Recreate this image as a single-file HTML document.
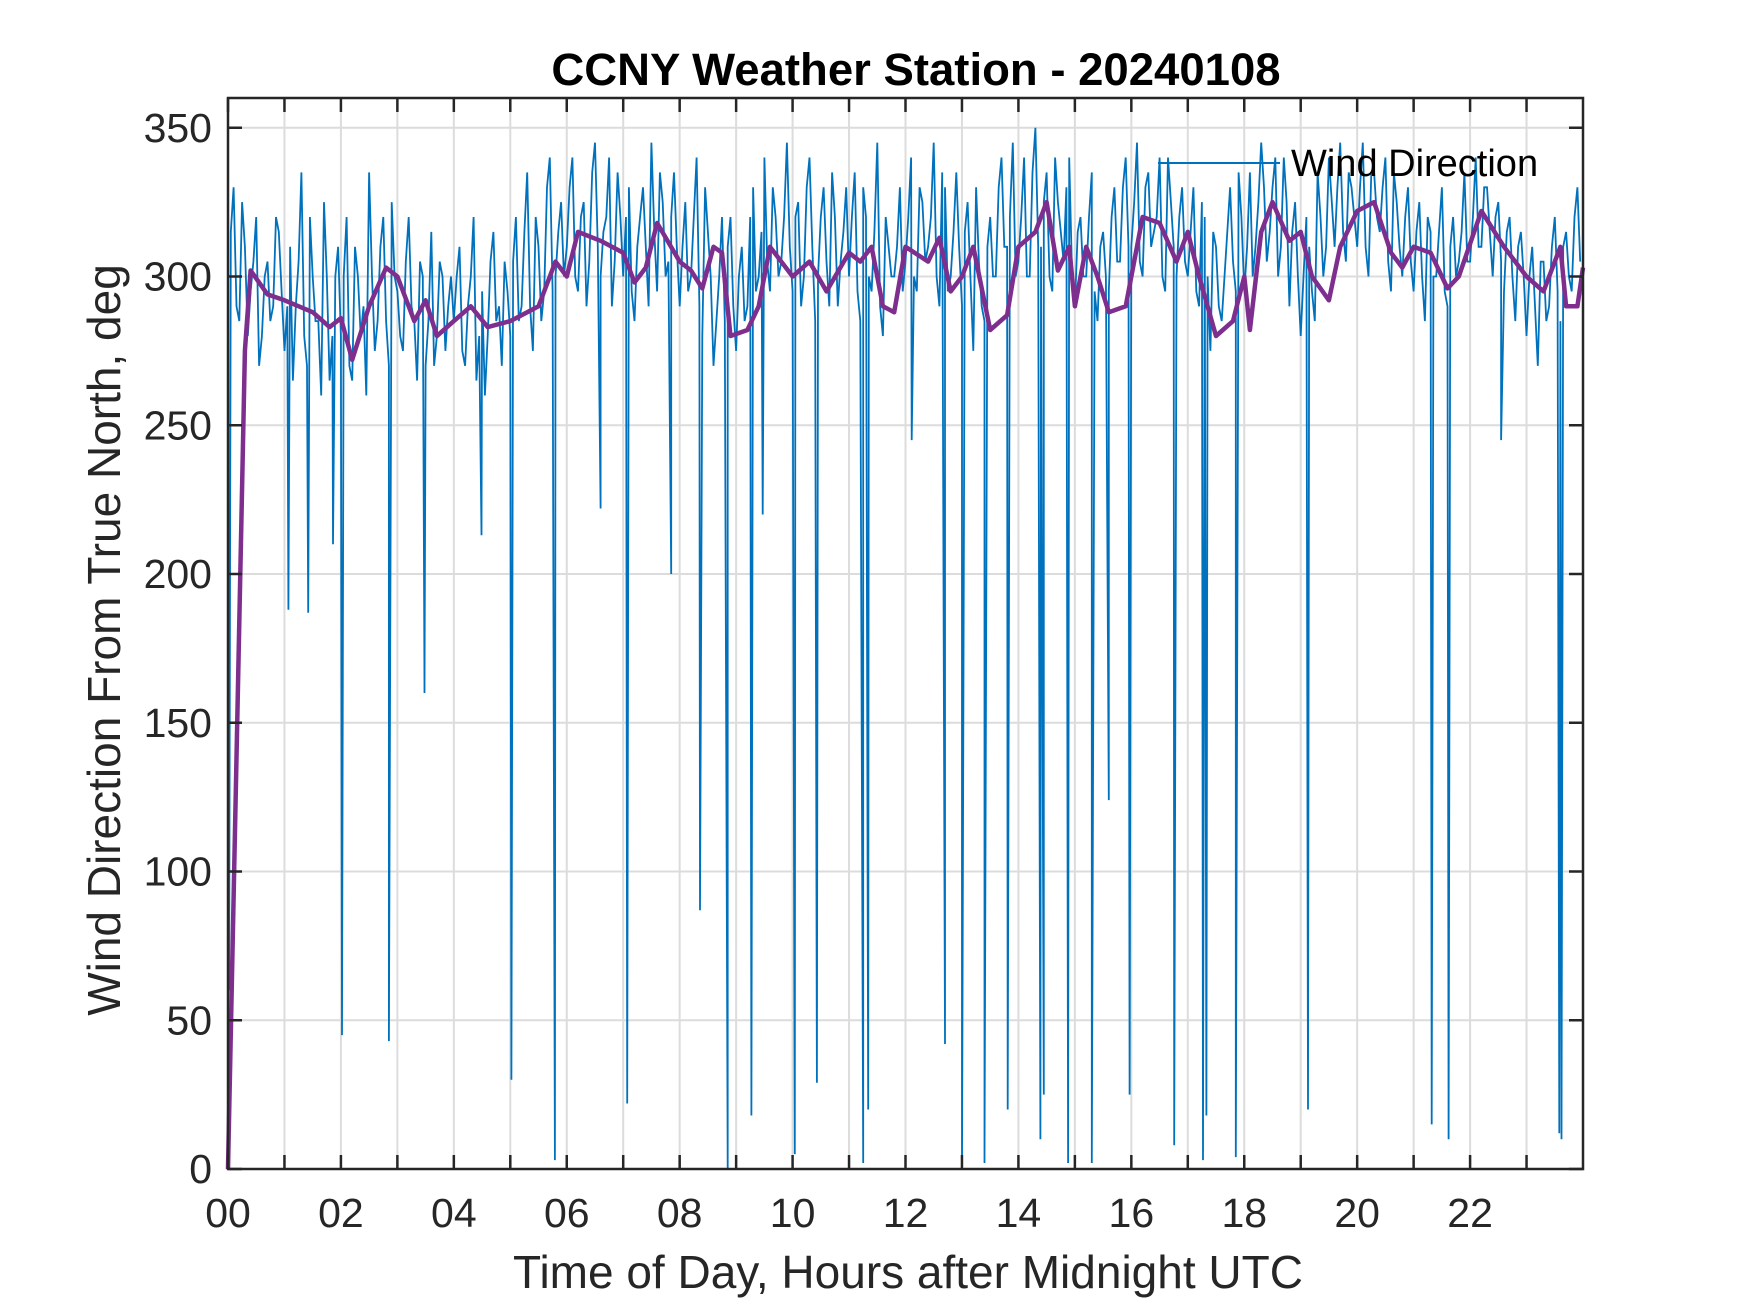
<!DOCTYPE html>
<html><head><meta charset="utf-8"><style>
html,body{margin:0;padding:0;background:#fff;}
svg{display:block;font-family:"Liberation Sans",Arial,sans-serif;}
</style></head><body>
<svg id="chart" width="1750" height="1313" viewBox="0 0 1750 1313">
<rect x="0" y="0" width="1750" height="1313" fill="#fff"/>
<g id="grid"></g>
<g id="series"></g>
<g id="axes"></g>
<text x="916" y="85" text-anchor="middle" font-size="45.5" font-weight="bold" fill="#000">CCNY Weather Station - 20240108</text>
<text x="908" y="1288" text-anchor="middle" font-size="46" fill="#262626">Time of Day, Hours after Midnight UTC</text>
<text transform="translate(120,640) rotate(-90)" text-anchor="middle" font-size="46" fill="#262626">Wind Direction From True North, deg</text>
<g>
<line x1="1158" y1="163" x2="1280" y2="163" stroke="#0072BD" stroke-width="2"/>
<text x="1291" y="176" font-size="38" fill="#000">Wind Direction</text>
</g>
</svg>
<script>
const hourTicks=[0,2,4,6,8,10,12,14,16,18,20,22];
const hourTickLabels=["00","02","04","06","08","10","12","14","16","18","20","22"];
const yTicks=[0,50,100,150,200,250,300,350];
const windBase=[
300,330,285,310,295,320,280,305,290,315,
275,310,290,335,270,300,285,325,265,300,
280,320,265,300,290,335,275,310,285,325,
295,275,320,285,305,270,315,280,300,290,
285,310,270,300,265,295,280,315,290,305,
280,320,290,335,275,310,295,340,300,325,
310,340,295,325,305,345,300,320,290,335,
300,330,285,320,310,345,295,325,305,335,
290,325,300,340,280,315,270,300,285,320,
275,310,290,330,300,340,295,320,305,345,
295,325,300,340,285,320,305,335,290,315,
300,335,285,320,295,345,280,310,300,330,
305,340,295,325,310,345,290,330,300,335,
290,325,275,305,285,320,300,340,310,345,
305,340,300,350,310,335,295,325,305,340,
290,320,300,335,285,315,295,330,305,340,
310,345,300,335,315,340,295,325,300,330,
300,330,290,320,275,310,285,315,305,335,
295,335,310,345,305,330,300,340,290,325,
280,320,295,335,300,340,310,345,305,330,
310,345,300,335,315,340,295,325,300,330,
295,325,285,315,300,330,290,320,305,335,
305,340,310,330,300,325,295,320,285,315,
280,310,270,305,290,320,285,315,295,330];
const windMid=[
315,290,325,280,305,270,300,285,320,295,
290,265,305,280,320,285,260,300,280,310,
300,270,310,280,260,300,285,320,270,300,
280,305,290,265,300,285,270,305,275,300,
300,275,290,320,280,260,305,285,270,295,
305,285,315,290,320,285,330,295,315,300,
330,300,320,290,335,310,315,340,305,320,
320,295,310,330,290,315,335,300,320,310,
310,295,320,290,330,300,285,320,310,290,
300,285,320,295,315,305,330,300,320,310,
320,290,330,310,300,330,290,320,305,330,
320,295,330,300,315,290,320,300,310,295,
320,300,330,305,320,300,335,295,315,310,
315,300,330,290,310,300,330,310,320,300,
320,300,335,310,325,300,340,315,330,300,
315,300,320,295,310,300,320,305,330,310,
325,305,330,310,320,300,340,310,320,305,
315,295,325,300,315,290,300,330,295,320,
310,300,325,330,315,340,310,325,315,300,
300,310,285,320,310,325,330,315,335,320,
330,310,335,320,330,305,335,310,320,305,
315,300,320,300,315,295,310,300,315,305,
320,310,330,315,320,305,315,300,310,300,
300,290,305,285,310,295,310,300,320,305];
const spikeHours=[0.02,1.07,1.42,1.86,2.02,2.85,3.48,4.49,5.02,5.79,6.6,7.07,7.85,8.36,8.85,9.27,9.47,10.04,10.43,11.25,11.34,12.11,12.7,13.0,13.4,13.81,14.39,14.45,14.88,15.3,15.6,15.97,16.76,17.27,17.33,17.85,19.13,21.32,21.62,22.55,23.58,23.62];
const spikeValues=[60,188,187,210,45,43,160,213,30,3,222,22,200,87,0,18,220,5,29,2,20,245,42,0,2,20,10,25,2,2,124,25,8,3,18,4,20,15,10,245,12,10];
const avgHours=[0,0.3,0.4,0.7,1,1.5,1.8,2,2.2,2.5,2.8,3,3.3,3.5,3.7,4,4.3,4.6,5,5.3,5.5,5.8,6,6.2,6.6,7,7.2,7.4,7.6,8,8.2,8.4,8.6,8.75,8.9,9.2,9.4,9.6,10,10.3,10.6,11,11.2,11.4,11.6,11.8,12,12.4,12.6,12.8,13,13.2,13.5,13.8,14,14.3,14.5,14.7,14.9,15,15.2,15.4,15.6,15.9,16.2,16.5,16.8,17,17.2,17.5,17.8,18,18.1,18.3,18.5,18.8,19,19.2,19.5,19.7,20,20.3,20.6,20.8,21,21.3,21.6,21.8,22.2,22.6,23,23.3,23.6,23.7,23.9,24];
const avgValues=[0,275,302,294,292,288,283,286,272,290,303,300,285,292,280,285,290,283,285,288,290,305,300,315,312,308,298,303,318,305,302,296,310,308,280,282,290,310,300,305,295,308,305,310,290,288,310,305,313,295,300,310,282,287,310,315,325,302,310,290,310,300,288,290,320,318,305,315,300,280,285,300,282,315,325,312,315,300,292,310,322,325,308,303,310,308,296,300,322,310,300,295,310,290,290,303];

const NS="http://www.w3.org/2000/svg";
const L=228,R=1583,T=98,B=1169;
const X=h=>L+(R-L)*h/24;
const Y=v=>B-(B-T)*v/360;
function mk(tag,attrs,parent){const e=document.createElementNS(NS,tag);for(const k in attrs)e.setAttribute(k,attrs[k]);parent.appendChild(e);return e;}
const grid=document.getElementById('grid'),series=document.getElementById('series'),axes=document.getElementById('axes');
for(let h=1;h<24;h++){
  const g=mk('line',{x1:X(h),x2:X(h),y1:T,y2:B,stroke:'#dcdcdc','stroke-width':2},grid);
  
  
}
yTicks.forEach(v=>{
  const g=mk('line',{x1:L,x2:R,y1:Y(v),y2:Y(v),stroke:'#dcdcdc','stroke-width':2},grid);
  
  
});
const pts=[];
windBase.forEach((v,i)=>pts.push([i*0.1,v]));
windMid.forEach((v,i)=>pts.push([i*0.1+0.05,v]));
spikeHours.forEach((h,i)=>pts.push([h,spikeValues[i]]));
pts.sort((a,b)=>a[0]-b[0]);
const blue=mk('polyline',{points:pts.map(p=>X(Math.min(p[0],24)).toFixed(1)+','+Y(p[1]).toFixed(1)).join(' '),fill:'none',stroke:'#0072BD','stroke-width':1.8},series);


const purple=mk('polyline',{points:avgHours.map((h,i)=>X(h).toFixed(1)+','+Y(avgValues[i]).toFixed(1)).join(' '),fill:'none',stroke:'#7E2F8E','stroke-width':4.5,'stroke-linejoin':'round'},series);


const box=mk('rect',{x:L,y:T,width:R-L,height:B-T,fill:'none',stroke:'#262626','stroke-width':2.5},axes);


for(let h=0;h<24;h++){
  mk('line',{x1:X(h),x2:X(h),y1:B,y2:B-14,stroke:'#262626','stroke-width':2.5},axes);
  mk('line',{x1:X(h),x2:X(h),y1:T,y2:T+14,stroke:'#262626','stroke-width':2.5},axes);
}
hourTicks.forEach((h,i)=>{
  const t=mk('text',{x:X(h),y:B+58,'text-anchor':'middle','font-size':41,fill:'#262626'},axes);
  t.textContent=hourTickLabels[i];
  
  
});
yTicks.forEach(v=>{
  mk('line',{x1:L,x2:L+14,y1:Y(v),y2:Y(v),stroke:'#262626','stroke-width':2.5},axes);
  mk('line',{x1:R,x2:R-14,y1:Y(v),y2:Y(v),stroke:'#262626','stroke-width':2.5},axes);
  const t=mk('text',{x:L-16,y:Y(v)+14,'text-anchor':'end','font-size':41,fill:'#262626'},axes);
  t.textContent=v;
  
  
});
</script>
</body></html>
